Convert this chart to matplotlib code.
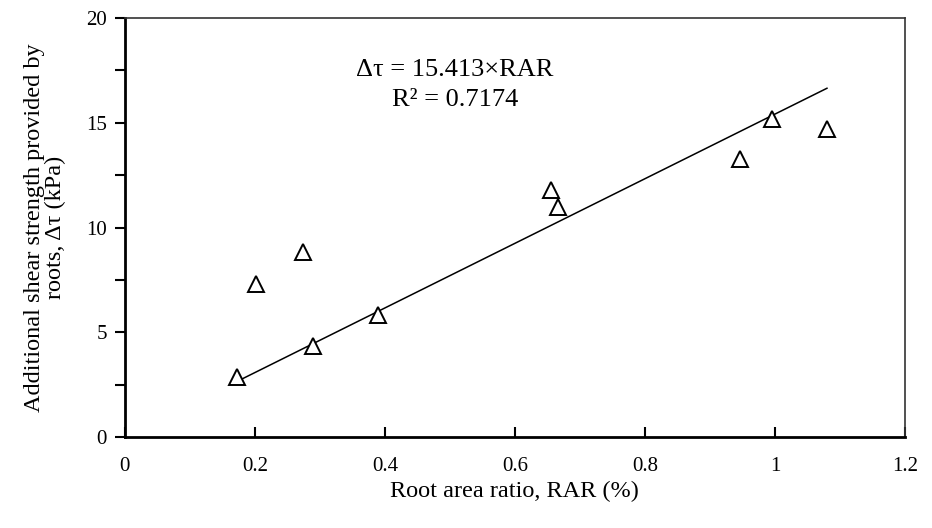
import matplotlib
matplotlib.use("Agg")
import matplotlib.pyplot as plt
from matplotlib.ticker import MultipleLocator
import numpy as np

rar = [0.172, 0.202, 0.274, 0.289, 0.390, 0.656, 0.667, 0.946, 0.996, 1.080]
dtau = [2.88, 7.30, 8.82, 4.36, 5.82, 11.79, 10.99, 13.26, 15.16, 14.70]
slope = 15.413
r2 = 0.7174

plt.rcParams['font.family'] = ['Liberation Serif', 'DejaVu Serif']

fig = plt.figure(figsize=(9.32, 5.28), dpi=100)
ax = fig.add_axes([0.134, 0.172, 0.837, 0.794])

ax.plot(rar, dtau, linestyle='none', marker='^', ms=11.5, mfc='white',
        mec='black', mew=1.4, zorder=3)

xfit = np.array([min(rar), max(rar)])
ax.plot(xfit, slope * xfit, color='black', lw=1.1, zorder=2)

ax.text(0.508, 16.8, "\u0394\u03c4 = %.3f\u00d7RAR\nR\u00b2 = %.4f" % (slope, r2),
        ha='center', va='center', multialignment='center', fontsize=19,
        linespacing=1.5)

ax.set_xlim(0, 1.2)
ax.set_ylim(0, 20)
ax.yaxis.set_major_locator(MultipleLocator(5))
ax.yaxis.set_minor_locator(MultipleLocator(2.5))
ax.set_xticks([0, 0.2, 0.4, 0.6, 0.8, 1.0, 1.2])
ax.set_xticklabels(['0', '0.2', '0.4', '0.6', '0.8', '1', '1.2'])

ax.tick_params(axis='x', direction='in', length=7, width=1.5, labelsize=15, pad=14)
ax.tick_params(axis='y', which='both', direction='out', length=7, width=1.5,
               labelsize=15, pad=6)

for s in ['left', 'bottom']:
    ax.spines[s].set_linewidth(2.0)
    ax.spines[s].set_color('black')
for s in ['top', 'right']:
    ax.spines[s].set_linewidth(1.2)
    ax.spines[s].set_color('#333333')

ax.set_xlabel("Root area ratio, RAR (%)", fontsize=17.5, labelpad=4)
ax.set_ylabel("Additional shear strength provided by\nroots, \u0394\u03c4 (kPa)",
              fontsize=17.5, labelpad=14, linespacing=1.05)

fig.savefig("out.png", dpi=100)
